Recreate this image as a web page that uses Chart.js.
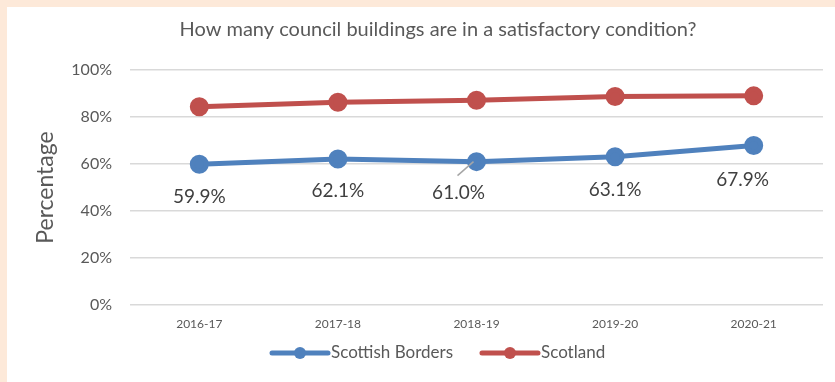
<!DOCTYPE html>
<html>
<head>
<meta charset="utf-8">
<script src="https://cdn.jsdelivr.net/npm/chart.js@4/dist/chart.umd.min.js"></script>
<style>
  body { margin: 0; background: #fde9d9; }
  #panel { position: absolute; left: 7px; top: 7px; width: 828px; height: 375px; background: #fff; }
</style>
</head>
<body>
<div id="panel"><canvas id="myChart" width="828" height="375"></canvas></div>
<script>
const years = ["2016-17", "2017-18", "2018-19", "2019-20", "2020-21"];
const bordersData = [59.9, 62.1, 61.0, 63.1, 67.9];
const scotlandData = [84.4, 86.3, 87.1, 88.7, 89.0];
const yTicks = [0, 20, 40, 60, 80, 100];
const chartTitle = "How many council buildings are in a satisfactory condition?";

const FONT = "Lato";
const TEXT = "#595959";

// chart title, centred over the plot rather than the whole canvas
const titlePlugin = {
  id: "plotTitle",
  afterDraw(chart, args, opts) {
    const ctx = chart.ctx;
    ctx.save();
    ctx.font = `20px ${FONT}`;
    ctx.fillStyle = TEXT;
    ctx.textAlign = "center";
    ctx.textBaseline = "middle";
    ctx.fillText(opts.text, opts.x, opts.y);
    ctx.restore();
  }
};

// value labels under the Scottish Borders line; [dx, dy, leader line]
const labelPlugin = {
  id: "valueLabels",
  afterDatasetsDraw(chart, args, opts) {
    const ctx = chart.ctx;
    const meta = chart.getDatasetMeta(0);
    ctx.save();
    ctx.font = `19px ${FONT}`;
    ctx.fillStyle = "#404040";
    ctx.textAlign = "center";
    ctx.textBaseline = "middle";
    meta.data.forEach((pt, i) => {
      const [dx, dy, leader] = opts.offsets[i];
      const x = pt.x + dx;
      const y = pt.y + dy;
      if (leader) {
        ctx.strokeStyle = "#a6a6a6";
        ctx.lineWidth = 1.5;
        ctx.beginPath();
        ctx.moveTo(x - 1, y - 17);
        ctx.lineTo(pt.x - 3, pt.y);
        ctx.stroke();
      }
      ctx.fillText(bordersData[i].toFixed(1) + "%", x, y);
    });
    ctx.restore();
  }
};

// legend: thick line with a dot in the middle, then the series name
const legendPlugin = {
  id: "lineLegend",
  afterDraw(chart, args, opts) {
    const ctx = chart.ctx;
    ctx.save();
    ctx.font = `17px ${FONT}`;
    ctx.textBaseline = "middle";
    let x = opts.x;
    const y = opts.y;
    chart.data.datasets.forEach((ds) => {
      ctx.strokeStyle = ds.borderColor;
      ctx.lineWidth = 5;
      ctx.lineCap = "round";
      ctx.beginPath();
      ctx.moveTo(x, y);
      ctx.lineTo(x + 56, y);
      ctx.stroke();
      ctx.fillStyle = ds.borderColor;
      ctx.beginPath();
      ctx.arc(x + 28, y, 6, 0, Math.PI * 2);
      ctx.fill();
      ctx.fillStyle = TEXT;
      ctx.fillText(ds.label, x + 59, y);
      x += 59 + ctx.measureText(ds.label).width + 29;
    });
    ctx.restore();
  }
};

const ctx = document.getElementById("myChart").getContext("2d");
const myChart = new Chart(ctx, {
  type: "line",
  data: {
    labels: years,
    datasets: [
      {
        label: "Scottish Borders",
        data: bordersData,
        borderColor: "#4f81bd",
        backgroundColor: "#4f81bd",
        borderWidth: 5,
        pointRadius: 7,
        pointHoverRadius: 7,
        tension: 0,
      },
      {
        label: "Scotland",
        data: scotlandData,
        borderColor: "#c0504d",
        backgroundColor: "#c0504d",
        borderWidth: 5,
        pointRadius: 7,
        pointHoverRadius: 7,
        tension: 0,
      },
    ],
  },
  options: {
    responsive: false,
    animation: false,
    layout: { padding: { left: 0, right: 2, top: 63, bottom: 37 } },
    plugins: {
      legend: { display: false },
      tooltip: { enabled: false },
      title: { display: false },
      plotTitle: { text: chartTitle, x: 431, y: 23 },
      valueLabels: {
        offsets: [[0, 33], [0, 32], [-18, 31, true], [0, 33], [-11, 34]],
      },
      lineLegend: { x: 265, y: 346 },
    },
    scales: {
      x: {
        offset: true,
        grid: { display: false, drawTicks: false },
        border: { display: false },
        ticks: { color: TEXT, font: { family: FONT, size: 12 }, padding: 12 },
        afterFit(scale) { scale.height = 40; },
      },
      y: {
        min: 0,
        max: 100,
        afterBuildTicks(scale) { scale.ticks = yTicks.map((v) => ({ value: v })); },
        grid: { color: "#d9d9d9", lineWidth: 1.5, drawTicks: false },
        border: { display: false },
        ticks: {
          color: TEXT,
          font: { family: FONT, size: 16 },
          padding: 18,
          callback: (v) => v + "%",
        },
        title: {
          display: true,
          text: "Percentage",
          color: TEXT,
          font: { family: FONT, size: 23 },
          padding: { top: 25, bottom: 0 },
        },
        afterFit(scale) { scale.width = 123; },
      },
    },
  },
  plugins: [titlePlugin, labelPlugin, legendPlugin],
});
</script>
</body>
</html>
